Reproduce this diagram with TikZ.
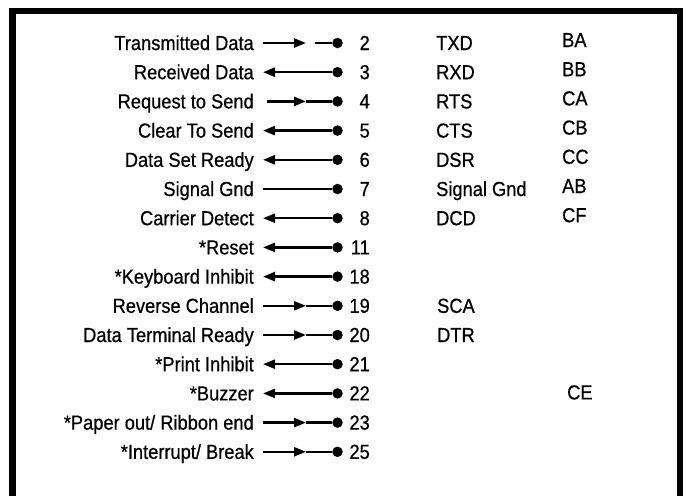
\documentclass[tikz,border=0pt]{standalone}
\usepackage{fontspec}
\setmainfont[FakeStretch=0.9,FakeBold=0.6]{Liberation Sans}
\usetikzlibrary{arrows.meta}
\tikzset{
  txt/.style={inner sep=0pt,font=\fontsize{20.3}{22}\selectfont},
  lab/.style={txt,anchor=base east},
  num/.style={txt,anchor=base east},
  colc/.style={txt,anchor=base west},
  pin/.style={circle,fill=black,inner sep=0pt,minimum size=10.5pt},
  wire/.style={line width=2.4pt},
  tipL/.style={wire,{Triangle[length=12pt,width=9pt]}-},
  tipR/.style={wire,-{Triangle[length=12pt,width=9pt]}},
  frame/.style={line width=6.5pt,line join=miter}
}
\begin{document}
\begin{tikzpicture}[x=1pt,y=-1pt]
\useasboundingbox (0,0) rectangle (686,496);
\draw[frame] (12.5,496) -- (12.5,11) -- (680,11) -- (680,496);

% rows: y = 43 + 29.2*i ; text baseline 7 below
\foreach \i/\lab/\num in {0/Transmitted Data/2,1/Received Data/3,2/Request to Send/4,3/Clear To Send/5,4/Data Set Ready/6,5/Signal Gnd/7,6/Carrier Detect/8,7/{*Reset}/11,8/{*Keyboard Inhibit}/18,9/Reverse Channel/19,10/Data Terminal Ready/20,11/{*Print Inhibit}/21,12/{*Buzzer}/22,13/{*Paper out/ Ribbon end}/23,14/{*Interrupt/ Break}/25}{
  \pgfmathsetmacro\yy{43+29.2*\i}
  \pgfmathsetmacro\yb{\yy+7}
  \node[lab] (lab\i) at (254,\yb) {\lab};
  \node[pin] (pin\i) at (337.5,\yy) {};
  \node[num] (num\i) at (370,\yb) {\num};
  \coordinate (s\i) at (263,\yy);
  \coordinate (m\i) at (306,\yy);
}
\coordinate (s2) at (267,101.4);

% Transmitted Data: arrow, gap, line
\coordinate (g0) at (315,43);
\draw[tipR] (s0) -- (m0);
\draw[wire] (g0) -- (pin0);
% left arrows
\foreach \i in {1,3,4,6,7,8,11,12}{
  \draw[tipL] (s\i) -- (pin\i);
}
% right (mid) arrows
\foreach \i in {2,9,10,13,14}{
  \draw[tipR] (s\i) -- (m\i);
  \draw[wire] (m\i) -- (pin\i);
}
% plain line
\draw[wire] (s5) -- (pin5);

% third column
\node[colc] (c0) at (436,50) {TXD};
\node[colc] (c1) at (436,79.2) {RXD};
\node[colc] (c2) at (436,108.4) {RTS};
\node[colc] (c3) at (436,137.6) {CTS};
\node[colc] (c4) at (436,166.8) {DSR};
\node[colc] (c5) at (436,196) {Signal Gnd};
\node[colc] (c6) at (436,225.2) {DCD};
\node[colc] (c9) at (437,312.8) {SCA};
\node[colc] (c10) at (437,342) {DTR};

% fourth column
\node[colc] (d0) at (562,47) {BA};
\node[colc] (d1) at (562,76.2) {BB};
\node[colc] (d2) at (562,105.4) {CA};
\node[colc] (d3) at (562,134.6) {CB};
\node[colc] (d4) at (562,163.8) {CC};
\node[colc] (d5) at (562,193) {AB};
\node[colc] (d6) at (562,222.2) {CF};
\node[colc] (d12) at (567,399.4) {CE};
\end{tikzpicture}
\end{document}
